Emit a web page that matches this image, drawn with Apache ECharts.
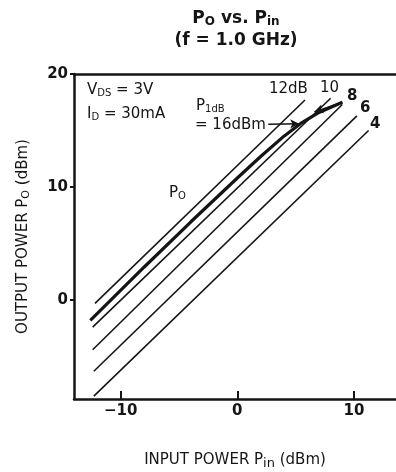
<!DOCTYPE html>
<html><head><meta charset="utf-8">
<script src="https://cdn.jsdelivr.net/npm/echarts@6/dist/echarts.min.js"></script>
<style>html,body{margin:0;padding:0;background:#fff}#c{width:396px;height:472px}</style>
</head><body><div id="c"></div>
<script>
// ---- data ----
var xTicks = [-10, 0, 10];
var yTicks = [0, 10, 20];
// Po curve (thick)
var poPin = [-12.6, -8, -4, 0, 2, 4, 5.4, 7.0, 9.0];
var poOut = [-1.8, 2.9, 6.9, 10.8, 12.7, 14.5, 15.6, 16.6, 17.5];
// constant-gain lines: [start, end] as [Pin, Pout]
var gain12 = [[-12.2, -0.3], [5.8, 17.7]];
var gain10 = [[-12.4, -2.4], [8.0, 17.85]];
var gain8  = [[-12.4, -4.4], [9.0, 17.3]];
var gain6  = [[-12.3, -6.3], [10.25, 16.3]];
var gain4  = [[-12.3, -8.5], [11.25, 15.0]];
var p1dbArrow = [[2.65, 15.55], [5.3, 15.6]];
var backArrow = [[9.0, 17.5], [6.6, 16.65]];

var F = '"DejaVu Sans", "Liberation Sans", sans-serif';
var ink = '#151515';
function pairs(xs, ys){ return xs.map(function(x,i){return [x, ys[i]];}); }
function thin(d){ return {type:'line', data:d, symbol:'none', lineStyle:{color:ink,width:1.6}, silent:true, animation:false}; }
function sub(text, x, y, big, small, drop){
  return {type:'text', left:x, top:y, style:{text:text, rich:{
    a:{fontFamily:F,fontSize:big,fill:ink}, s:{fontFamily:F,fontSize:small,fill:ink,padding:[drop,0,0,0]}}}};
}

var chart = echarts.init(document.getElementById('c'), null, {renderer:'canvas'});
chart.setOption({
  animation:false,
  backgroundColor:'#fff',
  grid:{left:74, right:0, top:74, bottom:73, containLabel:false, outerBoundsMode:'none'},
  xAxis:[{
    type:'value', min:-14, max:13.6,
    axisLine:{onZero:false, lineStyle:{color:ink,width:2.5}},
    axisTick:{inside:true, length:8, lineStyle:{color:ink,width:2}, customValues:xTicks},
    axisLabel:{customValues:xTicks, margin:5, color:ink, fontFamily:F, fontSize:15, fontWeight:'bold',
      formatter:function(v){return v<0? '\u2212'+(-v) : String(v);}},
    splitLine:{show:false},
    name:'INPUT POWER {a|P}{s|in} (dBm)', nameLocation:'middle', nameGap:52,
    nameTextStyle:{color:ink, fontFamily:F, fontSize:15, rich:{a:{fontSize:15, fontFamily:F, color:ink}, s:{fontSize:13, fontFamily:F, color:ink, padding:[6,0,0,0]}}}
  },{
    type:'value', position:'top', min:-14, max:13.6,
    axisLine:{onZero:false, lineStyle:{color:ink,width:2.5}}, axisTick:{show:false}, axisLabel:{show:false}, splitLine:{show:false}
  }],
  yAxis:{
    type:'value', min:-8.76, max:20,
    axisLine:{onZero:false, lineStyle:{color:ink,width:2.5}},
    axisTick:{length:4, lineStyle:{color:ink,width:2}, customValues:yTicks},
    axisLabel:{customValues:yTicks, margin:6, color:ink, fontFamily:F, fontSize:15, fontWeight:'bold'},
    splitLine:{show:false},
    name:'OUTPUT POWER {a|P}{s|O} (dBm)', nameLocation:'middle', nameGap:42,
    nameTextStyle:{color:ink, fontFamily:F, fontSize:15, rich:{a:{fontSize:15, fontFamily:F, color:ink}, s:{fontSize:11, fontFamily:F, color:ink, padding:[6,0,0,0]}}}
  },
  title:{
    left:231, textAlign:'center', top:3,
    text:'{a|P}{s|O}{a| vs. P}{s|in}\n{a|(f = 1.0 GHz)}',
    textStyle:{rich:{
      a:{fontFamily:F, fontSize:17, fontWeight:'bold', color:ink, lineHeight:22},
      s:{fontFamily:F, fontSize:12, fontWeight:'bold', color:ink, lineHeight:22, padding:[6,0,0,0]}
    }}
  },
  series:[
    thin(gain12), thin(gain10), thin(gain8), thin(gain6), thin(gain4),
    {type:'line', data:pairs(poPin, poOut), symbol:'none', lineStyle:{color:ink,width:3.2}, silent:true,
     markLine:{silent:true, symbol:['none','arrow'], symbolSize:[7,9], label:{show:false},
       lineStyle:{color:ink, width:1.5, type:'solid'},
       data:[
         [{coord:p1dbArrow[0]},{coord:p1dbArrow[1]}],
         [{coord:backArrow[0]},{coord:backArrow[1]}]
       ]}}
  ],
  graphic:[
    sub('{a|V}{s|DS}{a| = 3V}', 87, 83, 15, 10, 6),
    sub('{a|I}{s|D}{a| = 30mA}', 87, 107, 15, 10, 6),
    sub('{a|P}{s|1dB}', 196, 99, 15, 10, 5),
    {type:'text', left:195, top:118, style:{text:'= 16dBm', font:'15px '+F, fill:ink}},
    sub('{a|P}{s|O}', 169, 186, 15, 10, 5),
    {type:'text', left:269, top:82, style:{text:'12dB', font:'15px '+F, fill:ink}},
    {type:'text', left:320, top:81, style:{text:'10', font:'15px '+F, fill:ink}},
    {type:'text', left:347, top:89, style:{text:'8', font:'bold 15px '+F, fill:ink}},
    {type:'text', left:360, top:101, style:{text:'6', font:'bold 15px '+F, fill:ink}},
    {type:'text', left:370, top:117, style:{text:'4', font:'bold 15px '+F, fill:ink}}
  ]
});
</script></body></html>
